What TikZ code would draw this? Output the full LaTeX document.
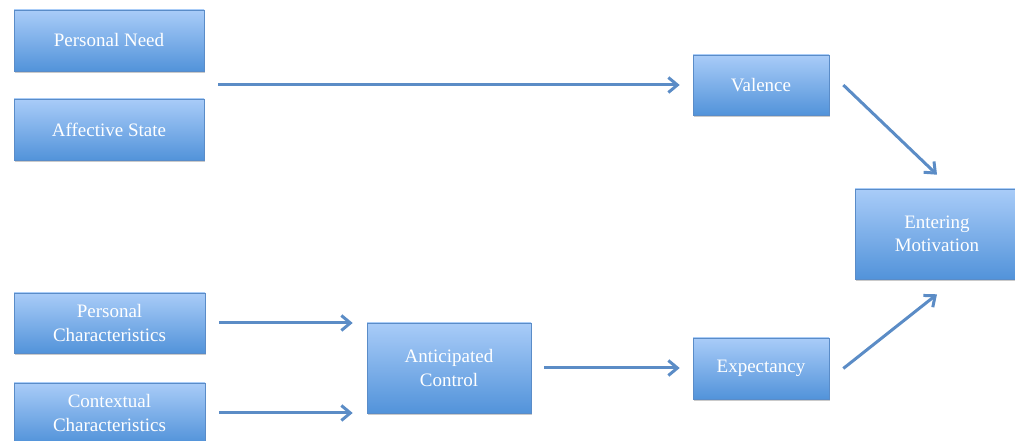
\documentclass[tikz,border=0pt]{standalone}
\usepackage{fontspec}
\setmainfont{Liberation Serif}
\usetikzlibrary{arrows.meta,shadows,calc}
\definecolor{boxtop}{HTML}{A9CCF8}
\definecolor{boxbot}{HTML}{5293DA}
\definecolor{boxline}{HTML}{5A8CC8}
\definecolor{flow}{HTML}{5B8CC6}
\tikzset{
  box/.style={rectangle, draw=boxline, line width=0.6pt,
    top color=boxtop, bottom color=boxbot,
    text=white, font=\fontsize{19}{23.5}\selectfont, align=center,
    inner sep=0pt,
    drop shadow={shadow xshift=1.2pt, shadow yshift=-2.2pt, opacity=0.35, fill=black!60}},
  link/.style={draw=flow, line width=3pt,
    -{Straight Barb[length=9pt,width=15pt,line width=3pt]}}
}
\begin{document}
\begin{tikzpicture}[x=1pt,y=1pt]
\useasboundingbox (0,0) rectangle (1015,441);
\clip (0,0) rectangle (1015,441);
% inputs on the left
\node[box, minimum width=190pt, minimum height=61pt] (need) at (109,400.5) {Personal Need};
\node[box, minimum width=190pt, minimum height=61pt] (affect) at (109,311.5) {Affective State};
\node[box, minimum width=191pt, minimum height=60pt] (pers) at (109.5,118) {Personal\\Characteristics};
\node[box, minimum width=191pt, minimum height=60pt] (ctx) at (109.5,28) {Contextual\\Characteristics};
% intermediate and outcome boxes
\node[box, minimum width=164pt, minimum height=90pt] (ctrl) at (449,73) {Anticipated\\Control};
\node[box, minimum width=136pt, minimum height=60pt] (val) at (761,356) {Valence};
\node[box, minimum width=136pt, minimum height=61pt] (exp) at (761,72.5) {Expectancy};
\node[box, minimum width=164pt, minimum height=90pt] (mot) at (937,207) {Entering\\Motivation};
% connectors
\coordinate (mid) at ($(need.east)!0.5!(affect.east)$);
\draw[link] ([xshift=14pt]mid) -- ([xshift=-13pt]mid -| val.west);
\draw[link] ([xshift=14pt]pers.east) -- ([xshift=-14pt]pers.east -| ctrl.west);
\draw[link] ([xshift=14pt]ctx.east) -- ([xshift=-14pt]ctx.east -| ctrl.west);
\draw[link] ([xshift=13pt]ctrl.east) -- ([xshift=-13pt]ctrl.east -| exp.west);
\draw[link] ([xshift=14pt]val.east) -- ([yshift=14pt]mot.north);
\draw[link] ([xshift=14pt]exp.east) -- ([yshift=-15pt]mot.south);
\end{tikzpicture}
\end{document}
